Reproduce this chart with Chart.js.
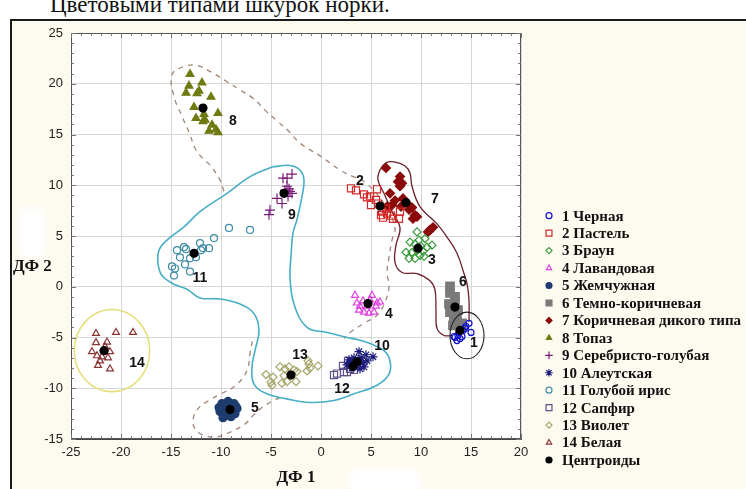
<!DOCTYPE html>
<html>
<head>
<meta charset="utf-8">
<script src="https://cdn.jsdelivr.net/npm/chart.js@4.4.0/dist/chart.umd.min.js"></script>
<style>
html, body { margin: 0; padding: 0; background: #fff; overflow: hidden; width: 746px; height: 489px; }
#title { position: absolute; left: 50px; top: -8px; font: 23px "Liberation Serif", serif; color: #111; white-space: nowrap; }
#frame { position: absolute; left: 10px; top: 19px; width: 800px; height: 600px; border: 2px solid #1a1a1a; background: #fdfaf0; }
.blot { position: absolute; background: #fff; filter: blur(3px); }
#wrap { position: absolute; left: 0; top: 0; width: 746px; height: 489px; }
</style>
</head>
<body>
<div id="title">Цветовыми типами шкурок норки.</div>
<div id="frame"></div>
<div class="blot" style="left:20px;top:208px;width:24px;height:50px;"></div>
<div class="blot" style="left:350px;top:470px;width:70px;height:22px;"></div>
<div id="wrap"><canvas id="chart" width="746" height="489"></canvas></div>
<script>
// series names (legend)
const seriesNames = ['1 Черная', '2 Пастель', '3 Браун', '4 Лавандовая', '5 Жемчужная',
  '6 Темно-коричневая', '7 Коричневая дикого типа', '8 Топаз', '9 Серебристо-голубая',
  '10 Алеутская', '11 Голубой ирис', '12 Сапфир', '13 Виолет', '14 Белая', 'Центроиды'];

// points per colour type [ДФ1, ДФ2]
const pts1 = [[15.0,-4.5],[14.8,-3.6],[13.4,-5.0],[13.6,-5.3],[13.3,-4.9],[14.1,-4.9],[13.8,-4.5],[14.4,-4.1],[13.9,-5.1],[14.2,-4.3],[13.7,-4.8],[14.5,-3.9]];
const pts2 = [[3.0,9.7],[3.5,9.5],[4.3,9.1],[4.6,8.8],[4.9,8.9],[5.6,9.6],[5.5,8.55],[5.0,8.05],[6.1,7.4],[6.6,7.2],[7.0,7.0],[7.8,6.7],[7.9,7.4],[6.0,7.05],[7.2,6.7],[6.2,6.8],[6.5,7.7],[5.7,8.2]];
const pts3 = [[9.6,5.4],[8.9,4.4],[9.4,4.2],[10.0,4.0],[10.6,3.9],[11.1,4.1],[10.2,3.5],[9.1,3.4],[8.5,3.4],[8.8,2.8],[9.4,2.8],[9.9,3.1],[9.8,4.6],[10.4,4.75],[9.6,3.6],[10.3,3.0]];
const pts4 = [[3.4,-0.84],[3.8,-2.3],[5.1,-0.84],[5.9,-1.5],[5.3,-2.5],[4.3,-2.5],[4.6,-1.9],[5.5,-1.9],[4.2,-1.4],[3.6,-1.6],[4.9,-1.3],[5.6,-1.6],[4.8,-2.6],[3.9,-1.9]];
const pts5 = [[-9.9,-11.5],[-9.3,-11.3],[-8.7,-11.5],[-8.4,-12.0],[-8.6,-12.5],[-9.0,-12.8],[-9.6,-12.7],[-10.1,-12.3],[-10.2,-11.9],[-9.5,-12.0],[-9.0,-11.8],[-8.9,-12.3],[-9.4,-12.4],[-9.7,-11.7],[-8.5,-11.8],[-9.8,-12.9]];
const pts6 = [[12.9,0.05],[12.9,-0.6],[12.8,-1.7],[13.4,-1.0],[13.4,-1.5],[12.9,-2.5],[13.7,-2.3],[13.6,-3.1],[14.1,-3.6],[13.2,-3.8],[13.3,-2.9]];
const pts7 = [[6.5,11.7],[7.9,10.85],[7.7,10.35],[8.1,10.2],[7.9,9.9],[6.9,9.2],[7.4,8.5],[8.2,8.7],[7.1,8.05],[8.6,8.2],[8.8,7.6],[9.1,7.8],[8.0,7.9],[9.4,7.05],[9.2,6.7],[9.6,6.9],[10.7,5.4],[10.9,5.6],[11.2,5.85],[6.6,7.9]];
const pts8 = [[-13.1,20.95],[-13.2,19.8],[-11.9,20.1],[-13.5,19.1],[-12.2,19.3],[-12.4,19.05],[-11.0,18.7],[-12.7,17.7],[-12.5,16.6],[-11.7,17.0],[-11.6,16.45],[-10.3,17.1],[-10.9,15.95],[-11.2,15.35],[-10.5,15.5],[-10.3,15.2],[-11.8,16.3]];
const pts9 = [[-3.8,10.7],[-3.4,10.7],[-2.9,11.1],[-3.4,9.9],[-3.2,9.65],[-2.9,9.2],[-4.4,8.7],[-3.9,8.2],[-3.3,8.9],[-5.1,7.55],[-5.2,7.1],[-3.1,9.4],[-3.6,9.5]];
const pts10 = [[3.8,-6.4],[4.5,-6.7],[5.2,-6.9],[4.0,-7.0],[2.8,-7.2],[3.3,-7.0],[3.6,-7.6],[4.2,-7.5],[2.6,-7.7],[3.1,-8.0],[3.9,-8.1],[4.6,-7.3],[3.4,-7.4],[2.9,-7.5],[4.3,-7.9],[3.7,-7.2]];
const pts11 = [[-9.2,5.8],[-7.1,5.6],[-10.7,4.8],[-12.1,4.3],[-11.8,3.8],[-11.2,3.8],[-12.0,3.6],[-13.7,3.9],[-14.4,3.6],[-13.5,3.7],[-14.1,2.9],[-13.1,2.8],[-12.5,2.9],[-13.6,2.2],[-14.9,2.0],[-14.6,1.8],[-14.7,1.1],[-13.1,1.5]];
const pts12 = [[1.3,-8.7],[1.6,-8.55],[2.3,-8.4],[2.6,-8.4],[2.9,-8.1],[3.3,-8.2],[3.0,-7.7],[2.7,-7.3],[3.5,-7.8],[2.2,-7.8]];
const pts13 = [[-5.5,-8.65],[-4.8,-8.9],[-4.9,-9.7],[-4.1,-7.9],[-3.6,-8.1],[-3.2,-7.9],[-3.7,-8.75],[-3.9,-9.5],[-3.4,-9.35],[-2.5,-9.35],[-2.4,-8.35],[-2.7,-8.2],[-1.3,-7.3],[-1.1,-8.0],[-1.4,-8.3],[-0.3,-7.8],[-1.2,-7.6],[-5.0,-9.4]];
const pts14 = [[-22.5,-4.6],[-20.5,-4.5],[-18.8,-4.5],[-22.5,-5.5],[-22.9,-6.4],[-22.4,-6.8],[-22.1,-7.3],[-21.1,-6.4],[-21.4,-5.45],[-21.1,-8.1],[-22.3,-7.75],[-21.9,-6.9],[-21.6,-5.9],[-21.3,-7.0]];
const centroids = [[13.9,-4.3],[5.9,7.95],[9.7,3.8],[4.7,-1.66],[-9.1,-12.1],[13.4,-2.0],[8.5,8.3],[-11.8,17.6],[-3.7,9.2],[3.6,-7.4],[-12.7,3.3],[3.2,-7.85],[-3.0,-8.7],[-21.7,-6.3]];

// group number labels
const labelText = ['1','2','3','4','5','6','7','8','9','10','11','12','13','14'];
const labelX = [15.3, 3.9, 11.1, 6.8, -6.6, 14.2, 11.4, -8.8, -2.9, 6.1, -12.1, 2.1, -2.1, -18.4];
const labelY = [-5.6, 10.45, 2.6, -2.65, -12.0, 0.5, 8.6, 16.3, 7.1, -5.9, 0.8, -10.1, -6.7, -7.5];

// hand-drawn outlines (data units)
const cyanLine = [[-4.9,11.8],[-3.1,11.95],[-2.1,11.5],[-1.7,10.5],[-1.9,8.9],[-2.4,6.6],[-2.8,5.3],[-3.0,3.0],[-3.1,1.0],[-2.7,-1.7],[-1.4,-4.0],[0.6,-4.5],[2.6,-5.0],[3.6,-5.2],[4.9,-5.6],[6.3,-6.3],[6.9,-7.3],[6.8,-8.6],[5.6,-9.7],[3.3,-10.55],[1.3,-11.2],[-1.1,-11.4],[-3.4,-11.05],[-5.4,-10.55],[-6.7,-9.6],[-6.9,-7.9],[-6.6,-6.3],[-6.2,-4.3],[-6.7,-2.65],[-8.1,-1.7],[-10.1,-1.2],[-12.1,-1.1],[-13.4,-0.25],[-14.7,0.25],[-15.9,1.1],[-16.3,2.3],[-16.2,3.6],[-15.4,4.6],[-13.7,5.9],[-12.1,7.4],[-9.4,9.2],[-7.1,10.85],[-4.9,11.8]];
const maroonLine = [[14.8,-3.5],[14.8,-1.3],[14.6,0.3],[14.3,1.3],[13.6,3.3],[12.6,4.9],[11.6,6.2],[9.9,7.9],[9.1,9.9],[8.9,11.2],[8.4,11.9],[7.3,12.3],[6.5,12.2],[5.9,11.5],[5.7,10.5],[6.4,9.0],[7.1,7.4],[7.9,5.8],[7.5,4.1],[7.4,2.4],[8.1,1.4],[9.6,1.3],[10.9,0.6],[11.4,-0.3],[11.5,-2.3],[11.6,-4.1],[12.3,-4.8],[13.1,-4.8]];
const dashUpper = [[-9.7,9.4],[-10.1,10.5],[-11.1,12.0],[-11.7,12.5],[-12.6,13.65],[-13.1,15.0],[-13.9,16.8],[-14.7,18.75],[-14.9,20.9],[-13.7,21.7],[-12.4,21.8],[-10.9,21.1],[-9.4,20.2],[-8.1,19.4],[-6.7,18.5],[-5.6,17.4],[-4.4,16.35],[-3.2,15.3],[-2.1,14.15],[-0.1,12.9],[1.9,11.5],[3.1,10.9],[4.4,10.3],[6.4,8.05],[7.4,5.8],[7.1,4.6],[6.8,2.9],[6.6,1.4],[6.8,0.0],[6.4,-1.5],[5.6,-2.8],[4.3,-3.6],[2.9,-4.5],[2.3,-5.1]];
const dashLower = [[-4.1,-10.9],[-4.9,-11.3],[-5.9,-11.9],[-6.8,-12.7],[-7.7,-13.6],[-9.5,-14.5],[-10.4,-14.8],[-11.8,-14.6],[-12.6,-14.0],[-12.8,-13.1],[-12.3,-12.0],[-11.2,-11.2],[-10.1,-10.6],[-8.5,-9.7],[-7.4,-8.25],[-7.1,-6.6],[-6.8,-5.0]];
// ellipses: centre x, centre y, radius x, radius y (data units)
const ellipse1 = [14.6, -4.8, 1.7, 2.3];
const ellipse14 = [-20.9, -6.3, 3.77, 4.05];

const xy = arr => arr.map(p => ({ x: p[0], y: p[1] }));

function marks(i, data, style, color, filled, r, bw) {
  return {
    label: seriesNames[i], data: xy(data), pointStyle: style, pointRadius: r,
    pointBorderColor: color, pointBackgroundColor: filled ? color : 'rgba(0,0,0,0)',
    pointBorderWidth: bw || 1.2, showLine: false, order: 0
  };
}
function outline(data, color, width, dash) {
  return {
    label: '', data: xy(data), showLine: true, pointRadius: 0, borderColor: color,
    borderWidth: width, borderDash: dash || [], tension: 0.4, fill: false, order: 1, isOutline: true
  };
}

const datasets = [
  marks(14, centroids, 'circle', '#000', true, 4),
  marks(0, pts1, 'circle', '#1010d0', false, 3),
  marks(1, pts2, 'rect', '#d42a2a', false, 5),
  marks(2, pts3, 'rectRot', '#3a9a3a', false, 4),
  marks(3, pts4, 'triangle', '#e040e0', false, 4),
  marks(4, pts5, 'circle', '#1e3c6e', true, 4),
  marks(5, pts6, 'rect', '#7a7a7a', true, 6),
  marks(6, pts7, 'rectRot', '#8b0a0a', true, 4.5),
  marks(7, pts8, 'triangle', '#6f7a10', true, 4.5),
  marks(8, pts9, 'cross', '#7a1a7a', false, 5),
  marks(9, pts10, 'star', '#1a1a7a', false, 4.5),
  marks(10, pts11, 'circle', '#3f8ca3', false, 3.5),
  marks(11, pts12, 'rect', '#60508a', false, 5),
  marks(12, pts13, 'rectRot', '#a6a66a', false, 4),
  marks(13, pts14, 'triangle', '#8a3434', false, 4),
  outline(cyanLine, '#47aec6', 1.6),
  outline(maroonLine, '#6b1f2a', 1.3),
  outline(dashUpper, '#a08676', 1.3, [5, 5]),
  outline(dashLower, '#a08676', 1.3, [5, 5])
];

function drawMarker(ctx, style, x, y, r) {
  ctx.beginPath();
  if (style === 'circle') {
    ctx.arc(x, y, r, 0, Math.PI * 2);
  } else if (style === 'rect') {
    const s = r * Math.SQRT1_2;
    ctx.rect(x - s, y - s, 2 * s, 2 * s);
  } else if (style === 'rectRot') {
    ctx.moveTo(x, y - r); ctx.lineTo(x + r, y); ctx.lineTo(x, y + r); ctx.lineTo(x - r, y); ctx.closePath();
  } else if (style === 'triangle') {
    ctx.moveTo(x, y - r); ctx.lineTo(x + r * 0.87, y + r * 0.5); ctx.lineTo(x - r * 0.87, y + r * 0.5); ctx.closePath();
  } else if (style === 'cross') {
    ctx.moveTo(x - r, y); ctx.lineTo(x + r, y); ctx.moveTo(x, y - r); ctx.lineTo(x, y + r);
  } else if (style === 'star') {
    const d = r * Math.SQRT1_2;
    ctx.moveTo(x - r, y); ctx.lineTo(x + r, y); ctx.moveTo(x, y - r); ctx.lineTo(x, y + r);
    ctx.moveTo(x - d, y - d); ctx.lineTo(x + d, y + d); ctx.moveTo(x - d, y + d); ctx.lineTo(x + d, y - d);
  }
  if (style !== 'cross' && style !== 'star') ctx.fill();
  ctx.stroke();
}

const decor = {
  id: 'decor',
  beforeDraw(chart) {
    const { ctx, chartArea: a } = chart;
    ctx.save();
    ctx.fillStyle = '#fff';
    ctx.fillRect(a.left, a.top, a.right - a.left, a.bottom - a.top);
    ctx.restore();
  },
  afterDatasetsDraw(chart) {
    const { ctx, chartArea: a, scales: { x, y } } = chart;
    ctx.save();
    ctx.beginPath();
    ctx.rect(a.left, a.top, a.right - a.left, a.bottom - a.top);
    ctx.clip();
    // outline ellipses
    [[ellipse1, '#222', 1.1], [ellipse14, '#e6df78', 1.5]].forEach(([e, col, w]) => {
      const cx = x.getPixelForValue(e[0]), cy = y.getPixelForValue(e[1]);
      const rx = Math.abs(x.getPixelForValue(e[0] + e[2]) - cx);
      const ry = Math.abs(y.getPixelForValue(e[1] + e[3]) - cy);
      ctx.beginPath();
      ctx.ellipse(cx, cy, rx, ry, 0, 0, Math.PI * 2);
      ctx.strokeStyle = col; ctx.lineWidth = w; ctx.stroke();
    });
    // group numbers
    ctx.fillStyle = '#111';
    ctx.font = 'bold 14px "Liberation Sans", Arial, sans-serif';
    ctx.textAlign = 'center';
    ctx.textBaseline = 'middle';
    labelText.forEach((t, i) => ctx.fillText(t, x.getPixelForValue(labelX[i]), y.getPixelForValue(labelY[i])));
    ctx.restore();
  },
  afterDraw(chart) {
    const { ctx, chartArea: a, scales: { x, y } } = chart;
    ctx.save();
    // plot frame and minor ticks
    ctx.strokeStyle = '#555';
    ctx.lineWidth = 1;
    ctx.strokeRect(a.left + 0.5, a.top + 0.5, a.right - a.left - 1, a.bottom - a.top - 1);
    ctx.beginPath();
    for (let v = x.min; v <= x.max; v++) {
      const px = Math.round(x.getPixelForValue(v)) + 0.5;
      const len = v % 5 === 0 ? 5 : 3;
      ctx.moveTo(px, a.top); ctx.lineTo(px, a.top + len);
      ctx.moveTo(px, a.bottom); ctx.lineTo(px, a.bottom - len);
    }
    for (let v = y.min; v <= y.max; v++) {
      const py = Math.round(y.getPixelForValue(v)) + 0.5;
      const len = v % 5 === 0 ? 5 : 3;
      ctx.moveTo(a.left, py); ctx.lineTo(a.left + len, py);
      ctx.moveTo(a.right, py); ctx.lineTo(a.right - len, py);
    }
    ctx.strokeStyle = '#777';
    ctx.stroke();

    // axis titles
    ctx.fillStyle = '#111';
    ctx.font = 'bold 17px "Liberation Serif", "Times New Roman", serif';
    ctx.textBaseline = 'middle';
    ctx.textAlign = 'center';
    ctx.fillText('ДФ 1', (a.left + a.right) / 2, 478);
    ctx.textAlign = 'left';
    ctx.fillText('ДФ 2', 13, 267);

    // legend
    const items = chart.data.datasets.filter(d => !d.isOutline);
    const ordered = items.slice(1).concat(items.slice(0, 1));
    ctx.font = 'bold 15px "Liberation Serif", "Times New Roman", serif';
    ordered.forEach((d, i) => {
      const ly = 215.7 + i * 17.45;
      ctx.fillStyle = d.pointBackgroundColor;
      ctx.strokeStyle = d.pointBorderColor;
      ctx.lineWidth = 1.2;
      const r = d.pointStyle === 'rect' ? 4.2 : (d.pointStyle === 'cross' || d.pointStyle === 'star') ? 3.8 : 3;
      drawMarker(ctx, d.pointStyle, 549, ly, r);
      ctx.fillStyle = '#111';
      ctx.textAlign = 'left';
      ctx.fillText(d.label, 562, ly + 1);
    });
    ctx.restore();
  }
};

new Chart(document.getElementById('chart'), {
  type: 'scatter',
  data: { datasets: datasets },
  options: {
    responsive: false,
    animation: false,
    layout: { padding: { left: 0, right: 225, top: 33, bottom: 0 } },
    plugins: { legend: { display: false }, tooltip: { enabled: false } },
    scales: {
      x: {
        type: 'linear', min: -25, max: 20,
        ticks: { stepSize: 5, color: '#222', padding: 6, maxRotation: 0, font: { family: '"Liberation Sans", Arial, sans-serif', size: 13 } },
        grid: { color: '#d6d6d6', drawTicks: false },
        border: { color: '#444' },
        afterFit(s) { s.height = 50; }
      },
      y: {
        type: 'linear', min: -15, max: 25,
        ticks: { stepSize: 5, color: '#222', padding: 8, font: { family: '"Liberation Sans", Arial, sans-serif', size: 13 } },
        grid: { color: '#d6d6d6', drawTicks: false },
        border: { color: '#444' },
        afterFit(s) { s.width = 71; }
      }
    }
  },
  plugins: [decor]
});
</script>
</body>
</html>
